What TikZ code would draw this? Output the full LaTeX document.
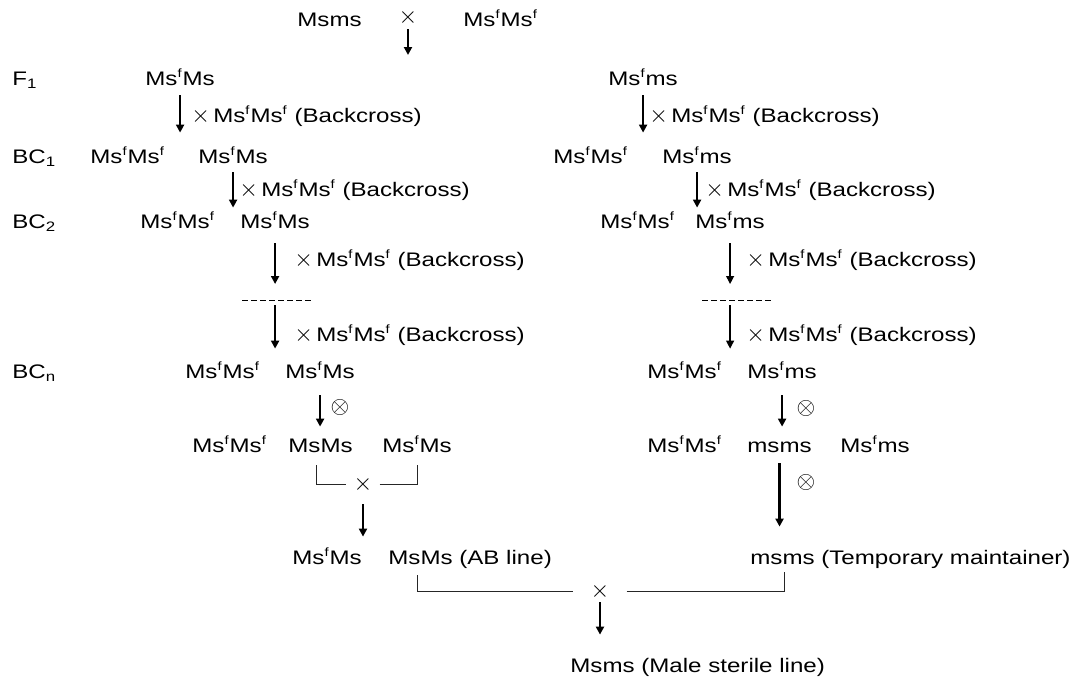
\documentclass[tikz,border=0pt]{standalone}
\usepackage{fontspec}
\setmainfont{Liberation Sans}[FakeStretch=1.23]
\usepackage{amsmath}
\usepackage{amssymb}
\usetikzlibrary{arrows.meta}

\newcommand{\Msf}{Ms\textsuperscript{\fontsize{6pt}{6pt}\selectfont f}}
\newcommand{\bigx}{{\fontsize{12pt}{12pt}\selectfont$\times$}}
\newcommand{\backx}{\bigx\,\Msf\Msf\ (Backcross)}

\begin{document}
\begin{tikzpicture}[x = 0.5pt, y = -0.5pt,
        font = \fontsize{9.8pt}{11pt}\selectfont,
        gene/.style = {anchor = base west, inner sep = 0pt, text height = 8pt, text depth = 2.5pt},
        crosslabel/.style = {anchor = base west, inner sep = 0pt},
        crossmark/.style = {inner sep = 0pt, inner xsep = 3.5pt},
        selfmark/.style = {inner sep = 0pt, font = \fontsize{12pt}{12pt}\selectfont},
        boldarrow/.style = {-{Triangle[length = 4pt, width = 4pt]}, line width = 1.1pt, shorten < = 2pt, shorten > = 2pt},
        thinarrow/.style = {-{Triangle[length = 4pt, width = 4pt]}, line width = 0.6pt, shorten < = 2pt, shorten > = 2pt},
        bracket/.style = {line width = 0.5pt, black!85},
        dashline/.style = {line width = 0.5pt, dash pattern = on 3pt off 1.5pt}]
        \useasboundingbox (0, 0) rectangle (1080, 680);

        \node (p1) at (297, 26) [gene] {Msms};
        \node (c0) at (408, 17) [selfmark] {$\times$};
        \node (p2) at (463, 26) [gene] {\Msf\Msf};
        \coordinate (a0) at (408, 59);
        \draw[boldarrow] (c0) -- (a0);

        \node (lf1) at (12, 85) [gene] {F\textsubscript{1}};
        \node (f1l) at (145, 85) [gene] {\Msf Ms};
        \node (f1r) at (608, 85) [gene] {\Msf ms};

        \node (lbc1) at (12, 163) [gene] {BC\textsubscript{1}};
        \node (bc1la) at (90, 163) [gene] {\Msf\Msf};
        \node (bc1lb) at (198, 163) [gene] {\Msf Ms};
        \node (bc1ra) at (553, 163) [gene] {\Msf\Msf};
        \node (bc1rb) at (662, 163) [gene] {\Msf ms};
        \draw[boldarrow, shorten < = 2.5pt, shorten > = 7pt] (f1l.south) -- (f1l.south |- bc1lb.north);
        \draw[boldarrow, shorten < = 2.5pt, shorten > = 7pt] (f1r.south) -- (f1r.south |- bc1rb.north);
        \node (l1) at (191, 122) [crosslabel] {\backx};
        \node (r1) at (649, 122) [crosslabel] {\backx};

        \node (lbc2) at (12, 228) [gene] {BC\textsubscript{2}};
        \node (bc2la) at (140, 228) [gene] {\Msf\Msf};
        \node (bc2lb) at (240, 228) [gene] {\Msf Ms};
        \node (bc2ra) at (600, 228) [gene] {\Msf\Msf};
        \node (bc2rb) at (695, 228) [gene] {\Msf ms};
        \draw[boldarrow] (bc1lb.south) -- (bc1lb.south |- bc2lb.north);
        \draw[boldarrow] (bc1rb.south) -- (bc1rb.south |- bc2rb.north);
        \node (l2) at (239, 196) [crosslabel] {\backx};
        \node (r2) at (705, 196) [crosslabel] {\backx};

        \coordinate (dl) at (277, 300);
        \coordinate (dr) at (737, 300);
        \draw[dashline] ([xshift = -17.5pt]dl) -- ([xshift = 18pt]dl);
        \draw[dashline] ([xshift = -17.5pt]dr) -- ([xshift = 18pt]dr);
        \draw[boldarrow, shorten < = 5pt, shorten > = 8pt] (bc2lb.south) -- (bc2lb.south |- dl);
        \draw[thinarrow, shorten < = 5pt, shorten > = 8pt] (bc2rb.south) -- (bc2rb.south |- dr);
        \node (l3) at (294, 266) [crosslabel] {\backx};
        \node (r3) at (746, 266) [crosslabel] {\backx};

        \node (lbcn) at (12, 378) [gene] {BC\textsubscript{n}};
        \node (bcnla) at (185, 378) [gene] {\Msf\Msf};
        \node (bcnlb) at (285, 378) [gene] {\Msf Ms};
        \node (bcnra) at (647, 378) [gene] {\Msf\Msf};
        \node (bcnrb) at (747, 378) [gene] {\Msf ms};
        \draw[boldarrow, shorten < = 2.5pt, shorten > = 6.5pt] (bc2lb.south |- dl) -- (bc2lb.south |- bcnlb.north);
        \draw[thinarrow, shorten < = 2.5pt, shorten > = 6.5pt] (bc2rb.south |- dr) -- (bc2rb.south |- bcnrb.north);
        \node (l4) at (294, 341) [crosslabel] {\backx};
        \node (r4) at (746, 341) [crosslabel] {\backx};

        \node (sla) at (192, 452) [gene] {\Msf\Msf};
        \node (slb) at (288, 452) [gene] {MsMs};
        \node (slc) at (382, 452) [gene] {\Msf Ms};
        \node (sra) at (647, 452) [gene] {\Msf\Msf};
        \node (srb) at (747, 452) [gene] {msms};
        \node (src) at (840, 452) [gene] {\Msf ms};
        \draw[boldarrow, shorten < = 6pt, shorten > = 4.5pt] (bcnlb.south) -- (bcnlb.south |- slb.north);
        \draw[boldarrow, shorten < = 6pt, shorten > = 4.5pt] (bcnrb.south) -- (bcnrb.south |- srb.north);
        \node (o1) at (340, 407) [selfmark] {$\otimes$};
        \node (o2) at (806, 408) [selfmark] {$\otimes$};

        \node (cx1) at (363, 484) [crossmark] {\bigx};
        \draw[bracket] ([xshift = 14pt, yshift = -4pt]slb.south west) |- (cx1.west);
        \draw[bracket] (cx1.east) -| ([xshift = 17.5pt, yshift = -4pt]slc.south west);

        \node (bl) at (292, 564) [gene] {\Msf Ms};
        \node (ab) at (388, 564) [gene] {MsMs (AB line)};
        \node (tm) at (750, 564) [gene] {msms (Temporary maintainer)};
        \draw[boldarrow, shorten < = 6pt, shorten > = 5.5pt] (cx1.south) -- (cx1.south |- bl.north);
        \draw[boldarrow, shorten < = 3pt, shorten > = 10.5pt] (srb.south) -- (srb.south |- tm.north);
        \node (o3) at (806, 482) [selfmark] {$\otimes$};

        \node (cx2) at (600, 591) [crossmark, inner xsep = 8.5pt] {\bigx};
        \draw[bracket] ([xshift = 14.5pt, yshift = -3pt]ab.south west) |- (cx2.west);
        \draw[bracket] (cx2.east) -| ([xshift = 17pt, yshift = -1.5pt]tm.south west);

        \node (ms) at (570, 672) [gene] {Msms (Male sterile line)};
        \draw[boldarrow, shorten < = 1.5pt, shorten > = 10.5pt] (cx2.south) -- (cx2.south |- ms.north);
\end{tikzpicture}
\end{document}
